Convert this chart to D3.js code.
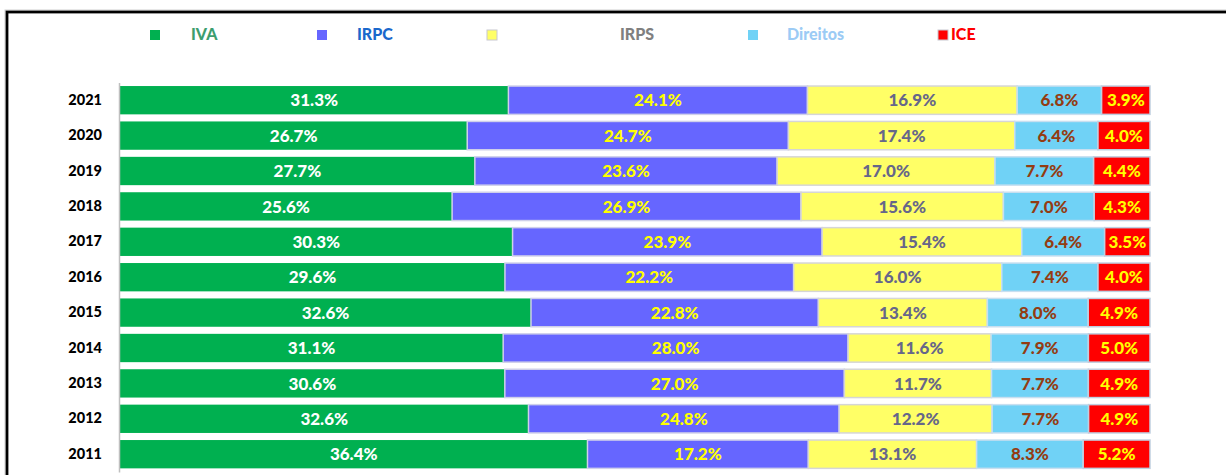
<!DOCTYPE html>
<html><head><meta charset="utf-8">
<script src="https://cdn.jsdelivr.net/npm/d3@7"></script>
<style>body{margin:0;background:#fff}svg{display:block}</style>
</head><body>
<svg id="c" width="1226" height="475"></svg>
<script>
const years = ["2021","2020","2019","2018","2017","2016","2015","2014","2013","2012","2011"];
const seriesNames = ["IVA","IRPC","IRPS","Direitos","ICE"];
const IVA      = [31.3,26.7,27.7,25.6,30.3,29.6,32.6,31.1,30.6,32.6,36.4];
const IRPC     = [24.1,24.7,23.6,26.9,23.9,22.2,22.8,28.0,27.0,24.8,17.2];
const IRPS     = [16.9,17.4,17.0,15.6,15.4,16.0,13.4,11.6,11.7,12.2,13.1];
const Direitos = [6.8,6.4,7.7,7.0,6.4,7.4,8.0,7.9,7.7,7.7,8.3];
const ICE      = [3.9,4.0,4.4,4.3,3.5,4.0,4.9,5.0,4.9,4.9,5.2];

const valuesBySeries = {IVA, IRPC, IRPS, Direitos, ICE};
const fillColors = {IVA:"#00b050", IRPC:"#6666ff", IRPS:"#ffff66", Direitos:"#70d2f6", ICE:"#ff0000"};
const labelColors = {IVA:"#ffffff", IRPC:"#ffff00", IRPS:"#66668a", Direitos:"#943c12", ICE:"#ffff00"};
const legendColors = {IVA:"#3d9e6f", IRPC:"#1a68cc", IRPS:"#808080", Direitos:"#9ccbf5", ICE:"#ff0000"};
const strokeColors = {IVA:"none", IRPC:"#cfd0ea", IRPS:"#d6d6d6", Direitos:"#c8dff0", ICE:"#c0cfe0"};

const table = years.map((y,i)=>{const o={year:y}; seriesNames.forEach(s=>o[s]=valuesBySeries[s][i]); return o;});
const stack = d3.stack().keys(seriesNames).offset(d3.stackOffsetExpand)(table);

const svg = d3.select("#c");
const font = "Lato, 'Open Sans', sans-serif";

// frame
svg.append("rect").attr("x",5).attr("y",10).attr("width",1300).attr("height",600)
  .attr("fill","none").attr("stroke","#d0d0d0").attr("stroke-width",1);
svg.append("rect").attr("x",7).attr("y",12).attr("width",1300).attr("height",600)
  .attr("fill","none").attr("stroke","#000").attr("stroke-width",2.8);

const x = d3.scaleLinear().domain([0,1]).range([120,1150]);
const y = d3.scaleBand().domain(years).range([82.5,471.9]).paddingInner(0.2).paddingOuter(0.1);

const g = svg.append("g");
stack.forEach(layer=>{
  const key = layer.key;
  const lg = g.append("g");
  lg.selectAll("rect").data(layer).join("rect")
    .attr("x",d=>x(d[0])).attr("y",d=>y(d.data.year))
    .attr("width",d=>x(d[1])-x(d[0])).attr("height",y.bandwidth())
    .attr("fill",fillColors[key])
    .attr("stroke",strokeColors[key]).attr("stroke-width",1.5);
  lg.selectAll("text").data(layer).join("text")
    .attr("x",d=>(x(d[0])+x(d[1]))/2).attr("y",d=>y(d.data.year)+y.bandwidth()/2)
    .attr("dy","0.36em").attr("text-anchor","middle")
    .attr("font-family",font).attr("font-weight","900").attr("font-size",17)
    .attr("fill",labelColors[key])
    .text(d=>d.data[key].toFixed(1)+"%");
});

// y axis
const yAxis = d3.axisLeft(y).tickSize(0).tickPadding(17);
const ya = svg.append("g").attr("transform","translate(119,0)").call(yAxis);
ya.select(".domain").attr("stroke","#bfbfbf").attr("stroke-width",1.5);
ya.selectAll("text").attr("font-family",font).attr("font-weight","900").attr("font-size",14.5).attr("fill","#000");

// legend
const legendMarkX = [150,317,487,748,938];
const legendTextX = [191,357,620,787,951];
const leg = svg.append("g");
seriesNames.forEach((s,i)=>{
  leg.append("rect").attr("x",legendMarkX[i]).attr("y",30).attr("width",10).attr("height",10)
    .attr("fill",fillColors[s])
    .attr("stroke", (s==="IRPS"||s==="ICE") ? "#c8c8d0" : "none").attr("stroke-width",1);
  leg.append("text").attr("x",legendTextX[i]).attr("y",40)
    .attr("font-family",font).attr("font-weight","900").attr("font-size",16)
    .attr("fill",legendColors[s]).text(s);
});
</script>
</body></html>
